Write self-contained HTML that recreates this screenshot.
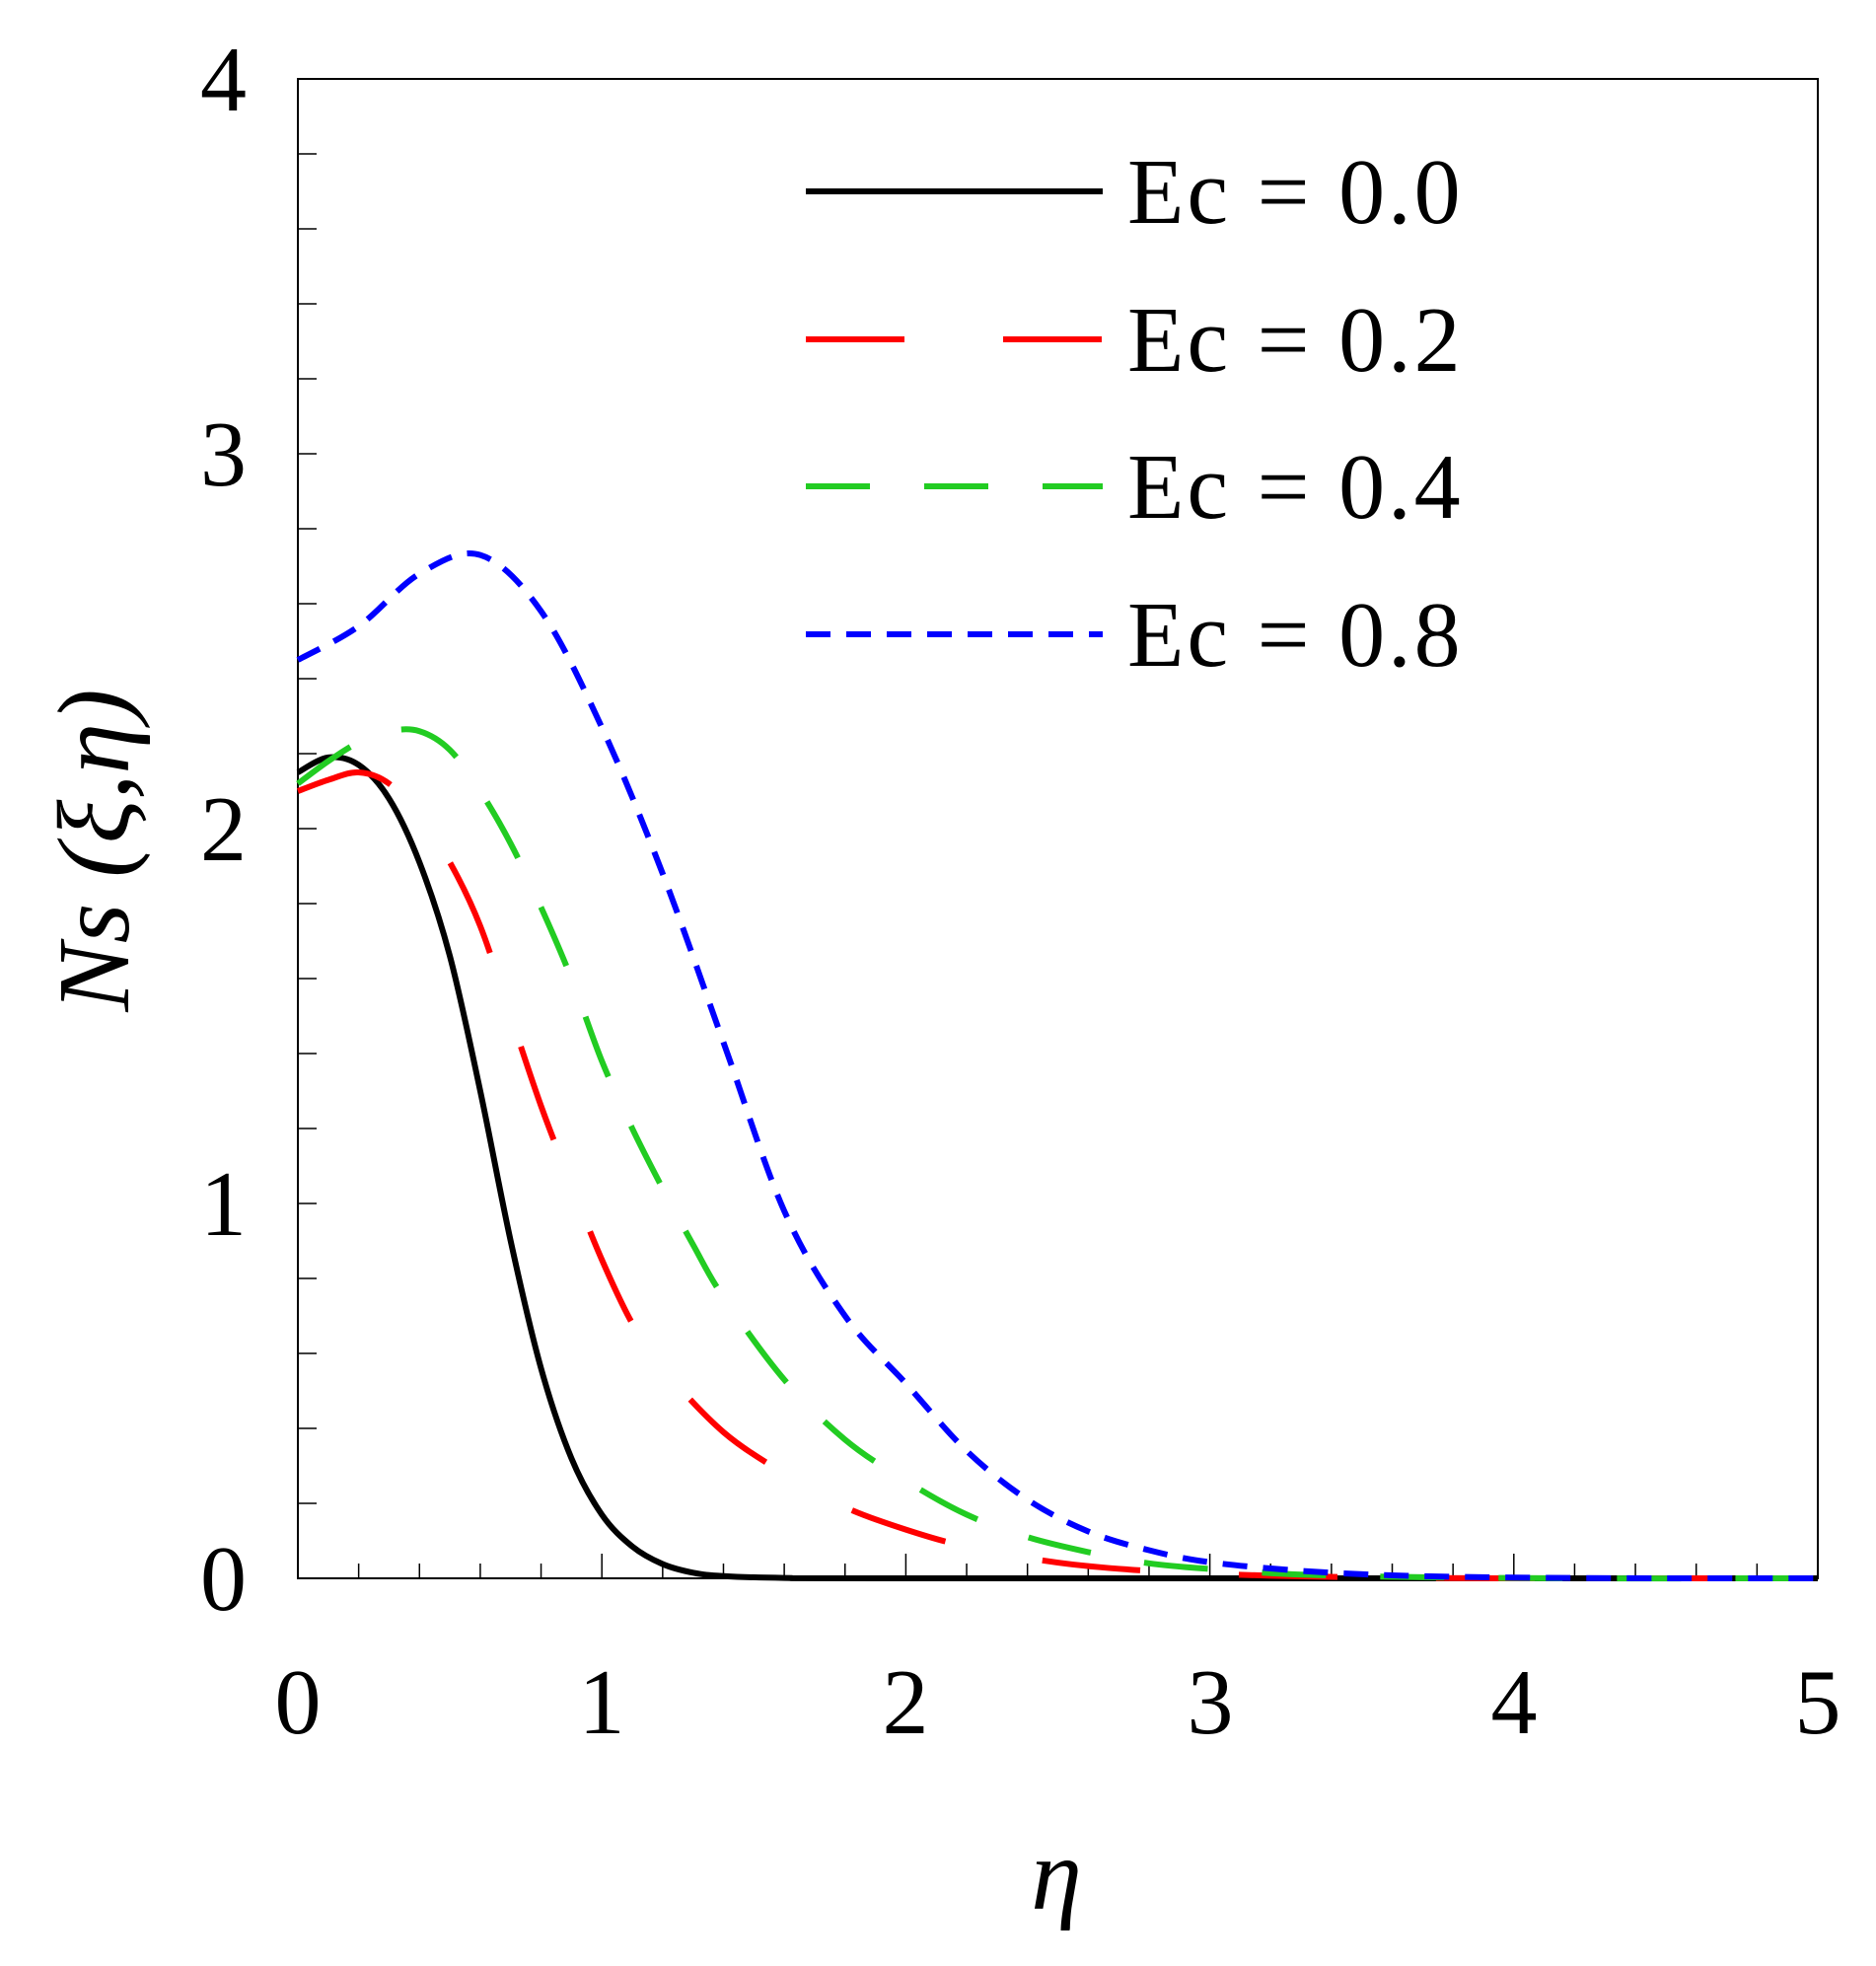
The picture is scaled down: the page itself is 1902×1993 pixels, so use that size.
<!DOCTYPE html>
<html><head><meta charset="utf-8"><style>
html,body{margin:0;padding:0;background:#fff;}
svg{display:block;}
text{font-family:"Liberation Serif",serif;fill:#000;}
</style></head><body>
<svg id="s" width="1902" height="1993" viewBox="0 0 1902 1993" xmlns="http://www.w3.org/2000/svg">
<rect x="302" y="80" width="1541" height="1520" fill="none" stroke="#000" stroke-width="2"/>
<g id="ticks" stroke="#000" stroke-width="1.5"></g>
<g id="curves" fill="none" stroke-width="6"></g>
<g font-size="94" text-anchor="end">
<text x="250" y="1632">0</text>
<text x="250" y="1252">1</text>
<text x="250" y="872">2</text>
<text x="250" y="492">3</text>
<text x="250" y="112">4</text>
</g>
<g font-size="94" text-anchor="middle">
<text x="302" y="1757">0</text>
<text x="610" y="1757">1</text>
<text x="918" y="1757">2</text>
<text x="1227" y="1757">3</text>
<text x="1535" y="1757">4</text>
<text x="1843" y="1757">5</text>
</g>
<text x="1071" y="1935" font-size="104" font-style="italic" text-anchor="middle">η</text>
<text transform="translate(130,862) rotate(-90)" font-size="104" font-style="italic" text-anchor="middle">Ns (ξ,η)</text>
<g stroke-width="6">
<line x1="817" y1="194" x2="1118" y2="194" stroke="#000"/>
<line x1="817" y1="344" x2="1118" y2="344" stroke="#f00" stroke-dasharray="100,100"/>
<line x1="817" y1="493" x2="1118" y2="493" stroke="#2c2" stroke-dasharray="65,55"/>
<line x1="817" y1="643" x2="1118" y2="643" stroke="#00f" stroke-dasharray="25,16"/>
</g>
<g font-size="94" letter-spacing="3">
<text x="1143" y="226">Ec = 0.0</text>
<text x="1143" y="376">Ec = 0.2</text>
<text x="1143" y="525">Ec = 0.4</text>
<text x="1143" y="675">Ec = 0.8</text>
</g>
</svg>
<script>
var X=function(e){return 302+e*308.2},Y=function(v){return 1600-v*380};
var t=document.getElementById('ticks'),h='';
for(var i=1;i<20;i++){var y=1600-i*76;h+='<line x1="302" y1="'+y+'" x2="321" y2="'+y+'"/>';}
for(var i=1;i<25;i++){var x=302+i*61.64;h+='<line x1="'+x+'" y1="1600" x2="'+x+'" y2="'+(i%5==0?1575:1585)+'"/>';}
t.innerHTML=h;
function path(p){var s='M'+X(p[0][0])+','+Y(p[0][1]);
for(var i=0;i<p.length-1;i++){var p0=p[i-1]||p[i],p1=p[i],p2=p[i+1],p3=p[i+2]||p2;
var a=[X(p0[0]),Y(p0[1])],b=[X(p1[0]),Y(p1[1])],c=[X(p2[0]),Y(p2[1])],d=[X(p3[0]),Y(p3[1])];
s+=' C'+(b[0]+(c[0]-a[0])/6)+','+(b[1]+(c[1]-a[1])/6)+' '+(c[0]-(d[0]-b[0])/6)+','+(c[1]-(d[1]-b[1])/6)+' '+c[0]+','+c[1];}
return s;}
var D=[
[[[0,2.15],[0.1,2.19],[0.2,2.17],[0.3,2.08],[0.4,1.91],[0.5,1.66],[0.6,1.3],[0.7,0.9],[0.8,0.56],[0.9,0.32],[1.0,0.17],[1.1,0.085],[1.2,0.038],[1.3,0.015],[1.4,0.006],[1.6,0.001],[2,0],[5,0]],'#000',''],
[[[0,2.1],[0.1,2.13],[0.2,2.15],[0.3,2.12],[0.4,2.03],[0.5,1.91],[0.6,1.74],[0.7,1.5],[0.8,1.26],[0.9,1.05],[1.0,0.85],[1.1,0.68],[1.2,0.56],[1.4,0.39],[1.6,0.28],[1.8,0.19],[2.0,0.13],[2.2,0.085],[2.5,0.042],[2.8,0.02],[3.2,0.007],[3.6,0.002],[4,0],[5,0]],'#f00','100,100'],
[[[0,2.12],[0.1,2.18],[0.2,2.23],[0.3,2.26],[0.4,2.26],[0.5,2.21],[0.6,2.1],[0.7,1.96],[0.8,1.79],[0.9,1.6],[1.0,1.38],[1.1,1.2],[1.2,1.04],[1.3,0.89],[1.4,0.75],[1.6,0.53],[1.8,0.37],[2.0,0.26],[2.2,0.17],[2.4,0.11],[2.6,0.07],[2.8,0.04],[3.0,0.025],[3.3,0.01],[3.7,0.003],[4.2,0],[5,0]],'#2c2','65,55'],
[[[0,2.45],[0.2,2.54],[0.4,2.68],[0.6,2.73],[0.8,2.58],[1.0,2.27],[1.2,1.88],[1.4,1.43],[1.6,0.98],[1.8,0.7],[2.0,0.52],[2.2,0.34],[2.4,0.21],[2.6,0.125],[2.8,0.075],[3.0,0.043],[3.3,0.02],[3.6,0.008],[4,0.002],[4.5,0],[5,0]],'#00f','25,16']
];
var g=document.getElementById('curves'),o='';
D.forEach(function(c){o+='<path d="'+path(c[0])+'" stroke="'+c[1]+'"'+(c[2]?' stroke-dasharray="'+c[2]+'"':'')+'/>';});
g.innerHTML=o;
</script>
</body></html>
